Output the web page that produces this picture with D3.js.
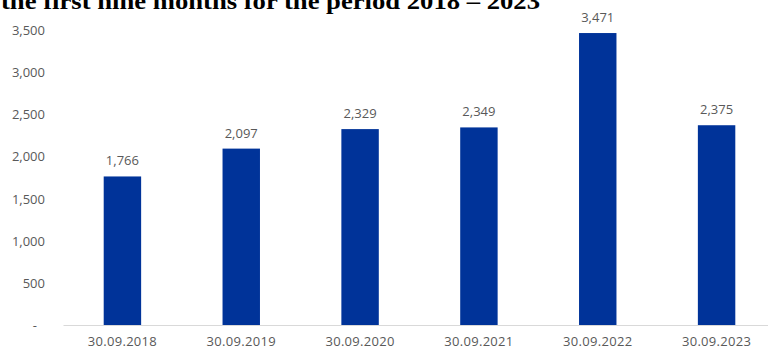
<!DOCTYPE html>
<html>
<head>
<meta charset="utf-8">
<script src="https://cdn.jsdelivr.net/npm/d3@7"></script>
<style>
  body { margin: 0; background: #fff; }
  svg { display: block; }
</style>
</head>
<body>
<div id="chart"></div>
<script>
// chart data
var categories = ["30.09.2018", "30.09.2019", "30.09.2020", "30.09.2021", "30.09.2022", "30.09.2023"];
var values = [1766, 2097, 2329, 2349, 3471, 2375];
var yTicks = [0, 500, 1000, 1500, 2000, 2500, 3000, 3500];
var title = "the first nine months for the period 2018 \u2013 2023";

var width = 768;
var height = 348;

var svg = d3.select("#chart")
    .append("svg")
    .attr("width", width)
    .attr("height", height);

var x = d3.scaleBand()
    .domain(categories)
    .range([63, 776])
    .paddingInner(0.685)
    .paddingOuter(0.3425);

var y = d3.scaleLinear()
    .domain([0, 3500])
    .range([325, 30.6]);

var fmt = d3.format(",");

// title (cut off at the top in the original)
svg.append("text")
    .attr("x", 1)
    .attr("y", 9)
    .attr("font-family", "'Liberation Serif', 'Times New Roman', serif")
    .attr("font-weight", "bold")
    .attr("font-size", 24)
    .attr("textLength", 539)
    .attr("lengthAdjust", "spacingAndGlyphs")
    .attr("fill", "#000")
    .text(title);

// y axis labels
var yAxis = d3.axisLeft(y)
    .tickValues(yTicks)
    .tickSize(0)
    .tickPadding(0)
    .tickFormat(function (d) { return d === 0 ? "-" : fmt(d); });

var gy = svg.append("g")
    .attr("transform", "translate(45,0)")
    .call(yAxis);
gy.select(".domain").remove();
gy.selectAll("text")
    .attr("font-family", "'Open Sans', sans-serif")
    .attr("font-size", 13)
    .attr("fill", "#595959");
gy.selectAll(".tick").filter(function (d) { return d === 0; })
    .select("text").attr("dx", "-8");

// bars
svg.selectAll(".bar")
    .data(values)
    .enter().append("rect")
    .attr("class", "bar")
    .attr("x", function (d, i) { return x(categories[i]); })
    .attr("y", function (d) { return y(d); })
    .attr("width", x.bandwidth())
    .attr("height", function (d) { return y(0) - y(d); })
    .attr("fill", "#003399");

// value labels
svg.selectAll(".val")
    .data(values)
    .enter().append("text")
    .attr("class", "val")
    .attr("x", function (d, i) { return x(categories[i]) + x.bandwidth() / 2; })
    .attr("y", function (d) { return y(d) - 11; })
    .attr("text-anchor", "middle")
    .attr("font-family", "'Open Sans', sans-serif")
    .attr("font-size", 13)
    .attr("fill", "#595959")
    .text(function (d) { return fmt(d); });

// x axis
var xAxis = d3.axisBottom(x).tickSize(0).tickPadding(0);
var gx = svg.append("g")
    .attr("transform", "translate(0," + y(0) + ")")
    .call(xAxis);
gx.select(".domain")
    .attr("stroke", "#d9d9d9")
    .attr("stroke-width", 1);
gx.selectAll("text")
    .attr("dy", 0)
    .attr("y", 21)
    .attr("font-family", "'Open Sans', sans-serif")
    .attr("font-size", 13)
    .attr("letter-spacing", "0.3px")
    .attr("fill", "#595959");
</script>
</body>
</html>
